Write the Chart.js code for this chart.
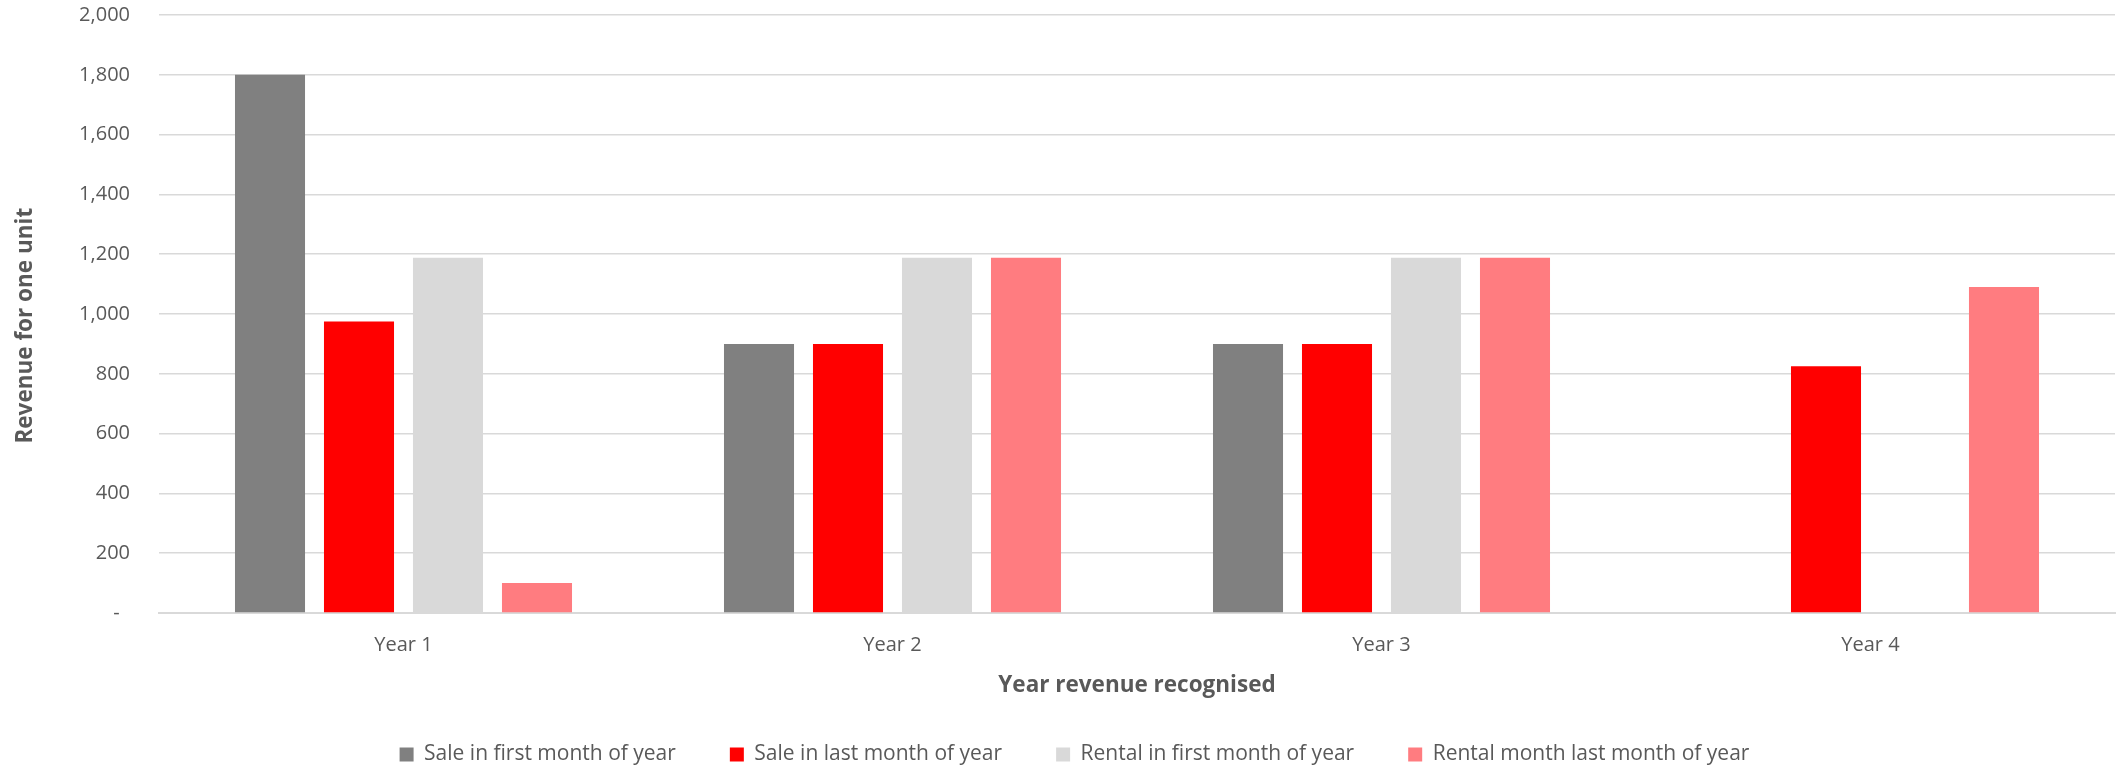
<!DOCTYPE html>
<html>
<head>
<meta charset="utf-8">
<script src="https://cdn.jsdelivr.net/npm/chart.js@4/dist/chart.umd.min.js"></script>
<style>
  html, body { margin: 0; padding: 0; background: #fff; }
  #wrap { width: 2121px; height: 767px; }
</style>
</head>
<body>
<div id="wrap"><canvas id="myChart"></canvas></div>
<script>
const years = ['Year 1', 'Year 2', 'Year 3', 'Year 4'];

const saleFirst = [1800, 900, 900, null];
const saleLast = [975, 900, 900, 825];
const rentalFirst = [1188, 1188, 1188, null];
const rentalLast = [100, 1188, 1188, 1090];

const seriesNames = ['Sale in first month of year', 'Sale in last month of year',
    'Rental in first month of year', 'Rental month last month of year'];
const seriesColors = ['#808080', '#ff0000', '#d9d9d9', '#ff7c80'];

const textColor = '#595959';
const fontFamily = '"Open Sans", Lato, sans-serif';

const data_bar = {
    labels: years,
    datasets: [saleFirst, saleLast, rentalFirst, rentalLast].map((vals, i) => ({
        label: seriesNames[i],
        data: vals,
        backgroundColor: seriesColors[i],
        categoryPercentage: 0.728,
        barPercentage: 0.787
    }))
};

// legend in the original sits a bit right of the page centre
const legendShift = {
    id: 'legendShift',
    afterLayout(chart) {
        chart.legend.left += 17;
        chart.legend.right += 17;
    }
};

const config = {
    type: 'bar',
    data: data_bar,
    plugins: [legendShift],
    options: {
        responsive: true,
        maintainAspectRatio: false,
        animation: false,
        layout: {
            padding: { top: 15, right: 6, left: 0, bottom: -8 }
        },
        plugins: {
            tooltip: { enabled: false },
            legend: {
                position: 'bottom',
                labels: {
                    color: textColor,
                    font: { family: fontFamily, size: 21 },
                    boxWidth: 14,
                    boxHeight: 14,
                    padding: 54
                }
            }
        },
        scales: {
            x: {
                grid: { display: false, drawTicks: false },
                border: { display: true, color: '#d9d9d9', width: 2 },
                ticks: {
                    color: textColor,
                    font: { family: fontFamily, size: 20 },
                    padding: 20
                },
                title: {
                    display: true,
                    text: 'Year revenue recognised',
                    color: textColor,
                    font: { family: fontFamily, size: 22.5, weight: 'bold' },
                    padding: { top: 0, bottom: -9 }
                },
                afterFit: (s) => { s.height = 77; }
            },
            y: {
                min: 0,
                max: 2000,
                grid: {
                    color: '#d9d9d9',
                    lineWidth: 1.5,
                    drawTicks: true,
                    tickLength: 29,
                    tickColor: 'rgba(0,0,0,0)'
                },
                border: { display: false },
                ticks: {
                    stepSize: 200,
                    color: textColor,
                    font: { family: fontFamily, size: 20 },
                    padding: 0,
                    callback: (v) => v === 0 ? '-  ' : v.toLocaleString('en-US')
                },
                title: {
                    display: true,
                    text: 'Revenue for one unit    ',
                    color: textColor,
                    font: { family: fontFamily, size: 22.5, weight: 'bold' },
                    padding: { top: 12, bottom: 0 }
                },
                afterFit: (s) => { s.width = 159; }
            }
        }
    }
};

const ctx = document.getElementById('myChart');
let bar_chart = new Chart(ctx, config);
</script>
</body>
</html>
